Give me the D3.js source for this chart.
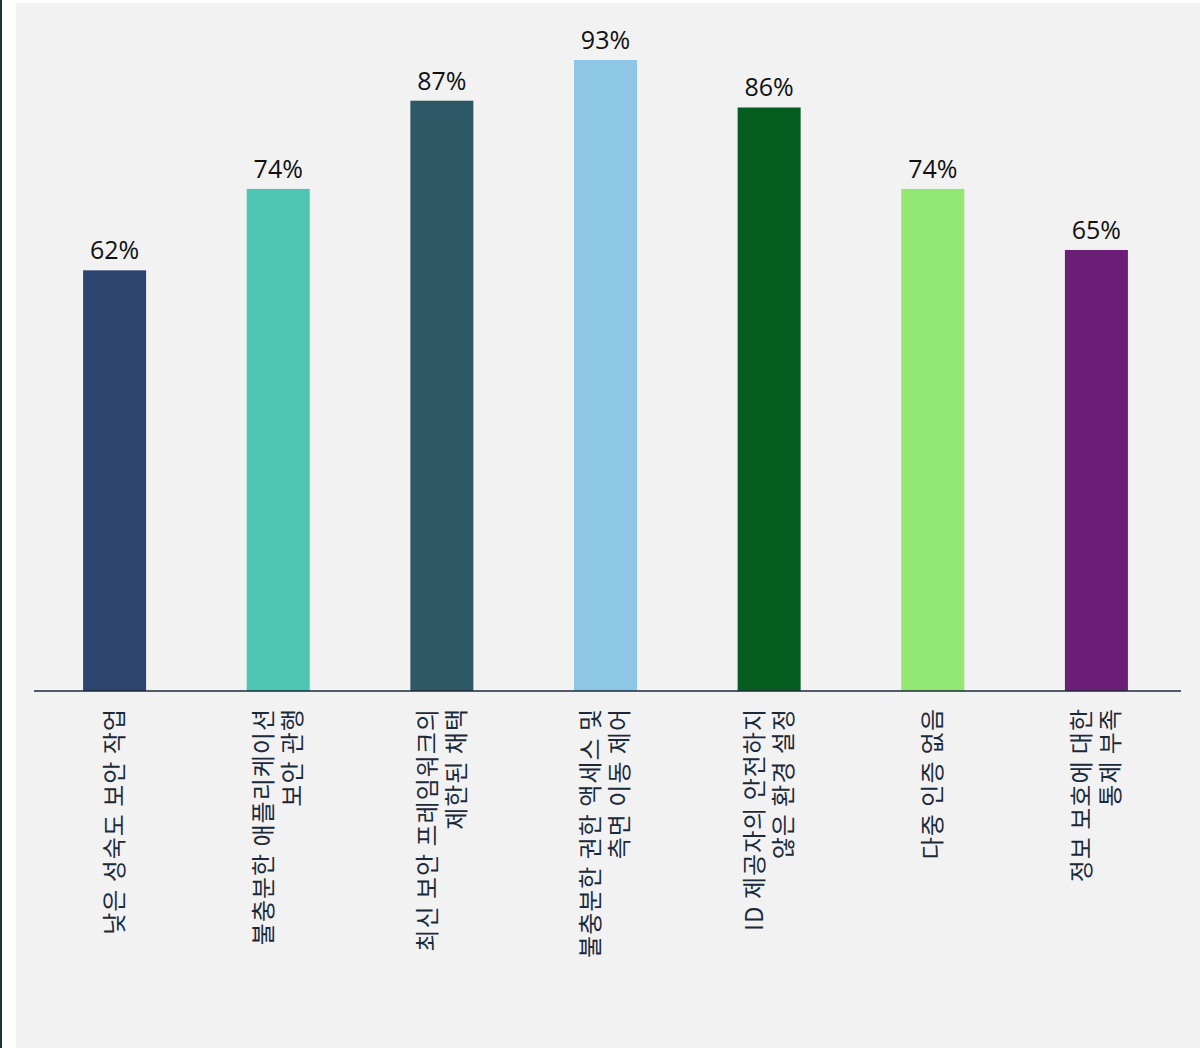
<!DOCTYPE html>
<html>
<head>
<meta charset="utf-8">
<script src="https://cdn.jsdelivr.net/npm/d3@7.9.0/dist/d3.min.js"></script>
<style>
  body { margin: 0; background: #ffffff; }
  svg { display: block; }
</style>
</head>
<body>
<svg id="chart"></svg>
<script>
const categories = [
  ["낮은 성숙도 보안 작업"],
  ["불충분한 애플리케이션", "보안 관행"],
  ["최신 보안 프레임워크의", "제한된 채택"],
  ["불충분한 권한 액세스 및", "측면 이동 제어"],
  ["ID 제공자의 안전하지", "않은 환경 설정"],
  ["다중 인증 없음"],
  ["정보 보호에 대한", "통제 부족"]
];
const values = [62, 74, 87, 93, 86, 74, 65];
const colors = ["#2c446e", "#4cc5b3", "#2e5866", "#8ec6e6", "#055e20", "#92e872", "#6c1f77"];

const W = 1203, H = 1048;
const svg = d3.select("#chart").attr("width", W).attr("height", H);

// left border + panel
svg.append("rect").attr("x", 0).attr("y", 0).attr("width", 2).attr("height", H).attr("fill", "#1e3340");
svg.append("rect").attr("x", 16).attr("y", 3).attr("width", 1184).attr("height", H - 3).attr("fill", "#f2f2f2");

const x = d3.scaleBand()
  .domain(d3.range(values.length))
  .range([34, 1177])
  .paddingInner(0.615)
  .paddingOuter(0.3);

const y = d3.scaleLinear().domain([0, 100]).range([691, 12.5]);

svg.selectAll(".bar")
  .data(values)
  .join("rect")
  .attr("class", "bar")
  .attr("x", (d, i) => x(i))
  .attr("y", d => y(d))
  .attr("width", x.bandwidth())
  .attr("height", d => y(0) - y(d))
  .attr("fill", (d, i) => colors[i]);

svg.selectAll(".val")
  .data(values)
  .join("text")
  .attr("class", "val")
  .attr("x", (d, i) => x(i) + x.bandwidth() / 2)
  .attr("y", d => y(d) - 11)
  .attr("text-anchor", "middle")
  .style("font-family", "'Open Sans', 'Noto Sans', sans-serif")
  .style("font-size", "25px")
  .attr("fill", "#111111")
  .text(d => d + "%");

// baseline
svg.append("line")
  .attr("x1", 34).attr("x2", 1181)
  .attr("y1", y(0)).attr("y2", y(0))
  .attr("stroke", "#1b2a3a").attr("stroke-width", 1.5);

// category labels, rotated
const lineH = 29;
svg.selectAll(".cat")
  .data(categories)
  .join("text")
  .attr("class", "cat")
  .attr("transform", (d, i) => `translate(${x(i) + x.bandwidth() / 2},708) rotate(-90)`)
  .attr("text-anchor", "end")
  .style("font-family", "'Noto Sans CJK KR', sans-serif")
  .style("font-size", "24px")
  .style("letter-spacing", "1px")
  .attr("fill", "#1b2a3a")
  .each(function (d) {
    const t = d3.select(this);
    const n = d.length;
    d.forEach((line, k) => {
      t.append("tspan")
        .attr("x", 0)
        .attr("y", (k - (n - 1) / 2) * lineH)
        .attr("dy", "0.35em")
        .text(line);
    });
  });
</script>
</body>
</html>
